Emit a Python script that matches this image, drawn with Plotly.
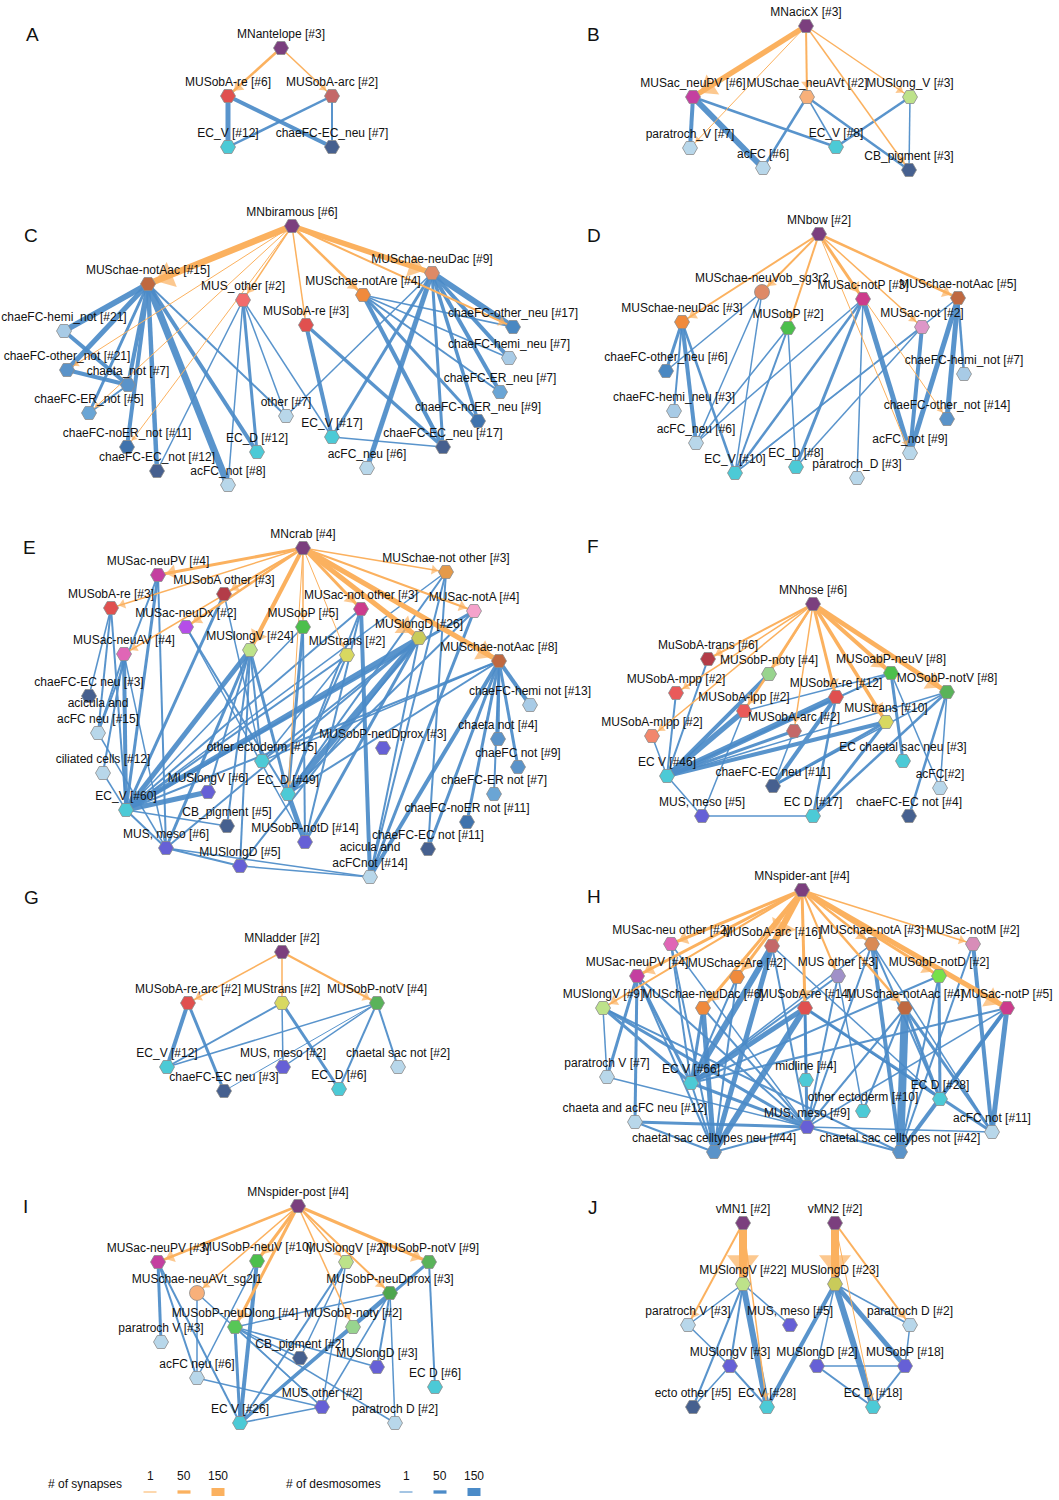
import math
import plotly.graph_objects as go

# ── Palette ──────────────────────────────────────────────────────────
SYN_COLOR = "#fbb15f"      # synapse edges (orange, with arrowheads)
DES_COLOR = "#4b8bc8"      # desmosome edges (blue)
NODE_LINE = "#8c8c8c"
FONT = "Liberation Sans, Arial, sans-serif"

PURPLE = "#7b3f7e"; RED = "#e0504f"; ROSE = "#c46868"; CYAN = "#4ccad6"
SLATE = "#46608f"; MAGENTA = "#c43fa0"; PEACH = "#f8b07a"; LGREEN = "#bde28a"
PALE = "#b8d7ea"; BROWN = "#bf6840"; SALMON = "#f26c6c"; ORANGE = "#f08a3c"
TERRA = "#de8a66"; LBLUE = "#a8cbe6"; MBLUE = "#5a93c9"; ERBLUE = "#6aa5d5"
DBLUE = "#3f73ad"; GREEN = "#4cbf4c"; CERISE = "#cc3b8c"; PINK = "#dd96c8"
VIOLET = "#b54ee8"; HOTPINK = "#e066b6"; DRED = "#b33c48"; YELLOW = "#d8d860"
OLIVE = "#c9cb5a"; LPINK = "#f5a2cb"; AMBER = "#e49a4a"; INDIGO = "#6660d6"
MINT = "#98d48e"; SALMON2 = "#f2876c"; RED2 = "#ea5a5a"; BGREEN = "#5ab35a"
LAV = "#a090c8"; NEON = "#77e04a"; MAUVE = "#d88db8"; OBLUE = "#4a88c2"

# ── Panel A ──────────────────────────────────────────────────────────
A_LABELS = {"mn": "MNantelope [#3]", "re": "MUSobA-re [#6]", "arc": "MUSobA-arc [#2]",
            "ecv": "EC_V [#12]", "ecn": "chaeFC-EC_neu [#7]"}
A_LAYOUT = {"mn": (281, 48, PURPLE), "re": (228, 96, RED), "arc": (332, 96, ROSE),
            "ecv": (228, 147, CYAN), "ecn": (332, 147, SLATE)}
A_SYN = [("mn", "re", 33), ("mn", "arc", 12)]
A_DES = [("re", "ecv", 90), ("re", "ecn", 60), ("arc", "ecv", 30), ("arc", "ecn", 25)]

# ── Panel B ──────────────────────────────────────────────────────────
B_LABELS = {"mn": "MNacicX [#3]", "pv": "MUSac_neuPV [#6]", "avt": "MUSchae_neuAVt [#2]",
            "lv": "MUSlong_V [#3]", "pt": "paratroch_V [#7]", "ac": "acFC [#6]",
            "ecv": "EC_V [#8]", "cb": "CB_pigment [#3]"}
B_LAYOUT = {"mn": (806, 26, PURPLE), "pv": (693, 97, MAGENTA), "avt": (807, 97, PEACH),
            "lv": (910, 97, LGREEN), "pt": (690, 148, PALE), "ac": (763, 168, PALE),
            "ecv": (836, 147, CYAN), "cb": (909, 170, SLATE)}
B_SYN = [("mn", "pv", 100), ("mn", "pt", 1), ("mn", "avt", 25), ("mn", "lv", 15), ("mn", "cb", 12)]
B_DES = [("pv", "pt", 65), ("pv", "ac", 110), ("pv", "ecv", 35), ("avt", "ac", 30),
         ("avt", "ecv", 15), ("avt", "cb", 35), ("lv", "ecv", 35), ("lv", "cb", 15)]

# ── Panel C ──────────────────────────────────────────────────────────
C_LABELS = {"mn": "MNbiramous [#6]", "naac": "MUSchae-notAac [#15]", "mo": "MUS_other [#2]",
            "nare": "MUSchae-notAre [#4]", "re": "MUSobA-re [#3]", "ndac": "MUSchae-neuDac [#9]",
            "hn": "chaeFC-hemi_not [#21]", "on": "chaeFC-other_not [#21]", "ch": "chaeta_not [#7]",
            "ern": "chaeFC-ER_not [#5]", "noern": "chaeFC-noER_not [#11]",
            "ecn": "chaeFC-EC_not [#12]", "acn": "acFC_not [#8]", "ecd": "EC_D [#12]",
            "ot": "other [#7]", "ecv": "EC_V [#17]", "acu": "acFC_neu [#6]",
            "ecu": "chaeFC-EC_neu [#17]", "oth": "chaeFC-other_neu [#17]",
            "hu": "chaeFC-hemi_neu [#7]", "eru": "chaeFC-ER_neu [#7]", "noeru": "chaeFC-noER_neu [#9]"}
C_LAYOUT = {"mn": (292, 226, PURPLE), "naac": (148, 284, BROWN), "mo": (243, 300, SALMON),
            "nare": (363, 295, ORANGE), "re": (306, 325, RED), "ndac": (432, 273, TERRA),
            "hn": (64, 331, LBLUE), "on": (67, 370, MBLUE), "ch": (128, 385, MBLUE),
            "ern": (89, 413, ERBLUE), "noern": (127, 447, DBLUE), "ecn": (157, 471, SLATE),
            "acn": (228, 485, PALE), "ecd": (257, 452, CYAN), "ot": (286, 416, PALE),
            "ecv": (332, 437, CYAN), "acu": (367, 468, PALE), "ecu": (443, 447, SLATE),
            "oth": (513, 327, OBLUE), "hu": (509, 358, LBLUE), "eru": (500, 392, ERBLUE),
            "noeru": (478, 421, DBLUE)}
C_SYN = [("mn", "naac", 120), ("mn", "ndac", 100), ("mn", "mo", 12), ("mn", "re", 15),
         ("mn", "nare", 35), ("mn", "on", 1), ("mn", "ern", 1), ("mn", "noern", 1), ("mn", "oth", 20)]
C_DES = [("naac", "hn", 110), ("naac", "on", 90), ("naac", "ch", 65), ("naac", "ern", 40),
         ("naac", "noern", 65), ("naac", "ecn", 80), ("naac", "acn", 130), ("naac", "ecd", 70),
         ("naac", "ot", 25), ("hn", "ch", 65), ("on", "ch", 60), ("ch", "ern", 25),
         ("mo", "ecd", 45), ("mo", "acn", 8), ("mo", "ot", 15), ("mo", "ecv", 8), ("mo", "ecn", 8),
         ("re", "ecv", 65), ("re", "ecu", 55), ("nare", "ecu", 60), ("nare", "noeru", 45),
         ("nare", "eru", 25), ("nare", "hu", 10), ("nare", "oth", 10), ("ndac", "oth", 110),
         ("ndac", "hu", 70), ("ndac", "eru", 70), ("ndac", "noeru", 50), ("ndac", "ecu", 45),
         ("ndac", "acu", 85), ("ndac", "ecv", 45), ("ndac", "ot", 10), ("ecv", "ecu", 10)]

# ── Panel D ──────────────────────────────────────────────────────────
D_LABELS = {"mn": "MNbow [#2]", "vob": "MUSchae-neuVob_sg3r2", "dac": "MUSchae-neuDac [#3]",
            "obp": "MUSobP [#2]", "np": "MUSac-notP [#3]", "aac": "MUSchae-notAac [#5]",
            "acn": "MUSac-not [#2]", "oun": "chaeFC-other_neu [#6]", "hun": "chaeFC-hemi_neu [#3]",
            "acu": "acFC_neu [#6]", "ecv": "EC_V [#10]", "ecd": "EC_D [#8]",
            "ptd": "paratroch_D [#3]", "acnot": "acFC_not [#9]", "onot": "chaeFC-other_not [#14]",
            "hnot": "chaeFC-hemi_not [#7]"}
D_LAYOUT = {"mn": (819, 234, PURPLE), "vob": (762, 292, TERRA, "circle"), "dac": (682, 322, ORANGE),
            "obp": (788, 328, GREEN), "np": (863, 299, CERISE), "aac": (958, 298, BROWN),
            "acn": (922, 327, PINK), "oun": (666, 371, OBLUE), "hun": (674, 411, LBLUE),
            "acu": (696, 443, PALE), "ecv": (735, 473, CYAN), "ecd": (796, 467, CYAN),
            "ptd": (857, 478, PALE), "acnot": (910, 453, PALE), "onot": (947, 419, MBLUE),
            "hnot": (964, 374, LBLUE)}
D_SYN = [("mn", "vob", 25), ("mn", "dac", 25), ("mn", "obp", 25), ("mn", "np", 40), ("mn", "aac", 30),
         ("mn", "acn", 15), ("mn", "onot", 1), ("mn", "acnot", 1)]
D_DES = [("dac", "oun", 40), ("dac", "hun", 25), ("dac", "acu", 65), ("dac", "ecv", 35),
         ("vob", "oun", 8), ("vob", "ecv", 8), ("vob", "acu", 8), ("obp", "ecv", 25), ("obp", "ecd", 15),
         ("obp", "acu", 15), ("np", "ecv", 30), ("np", "ecd", 40), ("np", "ptd", 15), ("np", "acnot", 85),
         ("np", "acu", 10), ("acn", "acnot", 65), ("acn", "ecv", 10), ("acn", "ecd", 15),
         ("aac", "acnot", 90), ("aac", "onot", 90), ("aac", "hnot", 30), ("aac", "ecv", 8)]

# ── Panel E ──────────────────────────────────────────────────────────
E_LABELS = {"mn": "MNcrab [#4]", "pv": "MUSac-neuPV [#4]", "oao": "MUSobA other [#3]",
            "re": "MUSobA-re [#3]", "dx": "MUSac-neuDx [#2]", "av": "MUSac-neuAV [#4]",
            "lv": "MUSlongV [#24]", "obp": "MUSobP [#5]", "tr": "MUStrans [#2]",
            "ano": "MUSac-not other [#3]", "ld": "MUSlongD [#26]", "cno": "MUSchae-not other [#3]",
            "na": "MUSac-notA [#4]", "aac": "MUSchae-notAac [#8]", "ecneu": "chaeFC-EC neu [#3]",
            "aan": "acicula and<br>acFC neu [#15]", "cil": "ciliated cells [#12]",
            "ecv": "EC_V [#60]", "lv6": "MUSlongV [#6]", "oe": "other ectoderm [#15]",
            "ecd": "EC_D [#49]", "cb": "CB_pigment [#5]", "meso": "MUS, meso [#6]",
            "ld5": "MUSlongD [#5]", "npd": "MUSobP-notD [#14]", "ndp": "MUSobP-neuDprox [#3]",
            "aano": "acicula and<br>acFCnot [#14]", "ecnot": "chaeFC-EC not [#11]",
            "hemi": "chaeFC-hemi not [#13]", "cht": "chaeta not [#4]", "cfc": "chaeFC not [#9]",
            "er": "chaeFC-ER not [#7]", "noer": "chaeFC-noER not [#11]"}
E_LAYOUT = {"mn": (303, 548, PURPLE), "pv": (158, 575, MAGENTA), "oao": (224, 594, DRED),
            "re": (111, 608, RED), "dx": (186, 627, VIOLET), "av": (124, 654, HOTPINK),
            "lv": (250, 650, LGREEN), "obp": (303, 627, GREEN), "tr": (347, 655, YELLOW),
            "ano": (361, 609, CERISE), "ld": (419, 638, OLIVE), "cno": (446, 572, AMBER),
            "na": (474, 611, LPINK), "aac": (499, 661, BROWN), "ecneu": (89, 696, SLATE),
            "aan": (98, 733, PALE), "cil": (103, 773, PALE), "ecv": (126, 810, CYAN),
            "lv6": (208, 792, INDIGO), "oe": (262, 761, CYAN), "ecd": (288, 794, CYAN),
            "cb": (227, 826, SLATE), "meso": (166, 848, INDIGO), "ld5": (240, 866, INDIGO),
            "npd": (305, 842, INDIGO), "ndp": (383, 748, INDIGO), "aano": (370, 877, PALE),
            "ecnot": (428, 849, SLATE), "hemi": (530, 705, LBLUE), "cht": (498, 739, MBLUE),
            "cfc": (518, 767, MBLUE), "er": (494, 794, ERBLUE), "noer": (467, 822, DBLUE)}
E_SYN = [("mn", "pv", 45), ("mn", "oao", 25), ("mn", "re", 15), ("mn", "dx", 35), ("mn", "av", 15),
         ("mn", "lv", 65), ("mn", "obp", 12), ("mn", "tr", 5), ("mn", "ano", 45), ("mn", "ld", 90),
         ("mn", "cno", 15), ("mn", "na", 25), ("mn", "aac", 90), ("mn", "ecd", 1)]
E_DES = [("pv", "ecv", 45), ("pv", "meso", 25), ("pv", "aan", 25), ("re", "ecv", 25), ("re", "aan", 25),
         ("re", "ecneu", 15), ("oao", "ecv", 45), ("oao", "oe", 8), ("dx", "ecd", 25), ("dx", "npd", 15),
         ("av", "ecv", 65), ("av", "aan", 25), ("av", "cil", 20), ("av", "meso", 8),
         ("lv", "ecv", 90), ("lv", "meso", 40), ("lv", "ld5", 25), ("lv", "ecd", 40), ("lv", "oe", 20),
         ("lv", "cb", 25), ("lv", "lv6", 25), ("obp", "ecd", 40), ("obp", "ecv", 10), ("obp", "npd", 20),
         ("tr", "ecv", 20), ("tr", "ecd", 20), ("tr", "oe", 8), ("ano", "aano", 65), ("ano", "ecv", 20),
         ("ano", "ecd", 25), ("ano", "npd", 25), ("ld", "ecv", 90), ("ld", "ecd", 110), ("ld", "ld5", 20),
         ("ld", "npd", 45), ("ld", "oe", 20), ("ld", "aano", 20), ("ld", "meso", 20),
         ("cno", "ecd", 20), ("cno", "aano", 20), ("cno", "ecnot", 20), ("cno", "ecv", 8),
         ("na", "ecv", 40), ("na", "aano", 40), ("na", "ecd", 20), ("aac", "ecv", 25),
         ("aac", "hemi", 65), ("aac", "cht", 40), ("aac", "cfc", 40), ("aac", "er", 25),
         ("aac", "noer", 40), ("aac", "ecnot", 40), ("aac", "aano", 65), ("aac", "ecd", 25),
         ("aac", "oe", 8), ("ecv", "lv6", 90), ("ecv", "meso", 25), ("ecv", "cil", 10), ("ecv", "cb", 10),
         ("meso", "ld5", 20), ("meso", "aano", 8), ("ecd", "npd", 90), ("ld5", "aano", 8), ("aan", "meso", 10)]

# ── Panel F ──────────────────────────────────────────────────────────
F_LABELS = {"mn": "MNhose [#6]", "tr": "MuSobA-trans [#6]", "noty": "MUSobP-noty [#4]",
            "mpp": "MUSobA-mpp [#2]", "lpp": "MUSobA-lpp [#2]", "mlpp": "MUSobA-mlpp [#2]",
            "re": "MUSobA-re [#12]", "arc": "MUSobA-arc [#2]", "neuv": "MUSoabP-neuV [#8]",
            "notv": "MOSobP-notV [#8]", "trans": "MUStrans [#10]", "ecv": "EC V [#46]",
            "ecn": "chaeFC-EC neu [#11]", "ecs": "EC chaetal sac neu [#3]", "acfc": "acFC[#2]",
            "meso": "MUS, meso [#5]", "ecd": "EC D [#17]", "ecnot": "chaeFC-EC not [#4]"}
F_LAYOUT = {"mn": (813, 604, PURPLE), "tr": (708, 659, DRED), "noty": (769, 674, MINT),
            "mpp": (676, 693, RED2), "lpp": (744, 711, RED2), "mlpp": (652, 736, SALMON2),
            "re": (836, 697, RED), "arc": (794, 731, ROSE), "neuv": (891, 673, GREEN),
            "notv": (947, 692, BGREEN), "trans": (886, 722, YELLOW), "ecv": (667, 776, CYAN),
            "ecn": (773, 786, SLATE), "ecs": (903, 761, CYAN), "acfc": (940, 788, PALE),
            "meso": (702, 816, INDIGO), "ecd": (813, 816, CYAN), "ecnot": (909, 816, SLATE)}
F_SYN = [("mn", "tr", 25), ("mn", "noty", 25), ("mn", "mpp", 12), ("mn", "mlpp", 12), ("mn", "lpp", 35),
         ("mn", "re", 45), ("mn", "arc", 12), ("mn", "neuv", 65), ("mn", "notv", 80), ("mn", "trans", 55)]
F_DES = [("tr", "ecv", 25), ("noty", "ecv", 65), ("mpp", "ecv", 25), ("lpp", "ecv", 100),
         ("mlpp", "ecv", 8), ("re", "ecv", 110), ("arc", "ecv", 45), ("trans", "ecv", 65),
         ("neuv", "ecv", 25), ("notv", "ecv", 15), ("re", "ecn", 65), ("trans", "ecn", 45),
         ("notv", "ecn", 8), ("arc", "ecn", 10), ("re", "ecd", 30), ("trans", "ecd", 45),
         ("notv", "ecd", 30), ("neuv", "ecs", 40), ("neuv", "acfc", 8), ("notv", "acfc", 8),
         ("notv", "ecnot", 30), ("lpp", "meso", 8), ("ecv", "meso", 10), ("meso", "ecd", 8),
         ("lpp", "neuv", 15)]

# ── Panel G ──────────────────────────────────────────────────────────
G_LABELS = {"mn": "MNladder [#2]", "re": "MUSobA-re,arc [#2]", "tr": "MUStrans [#2]",
            "nv": "MUSobP-notV [#4]", "ecv": "EC_V [#12]", "ecn": "chaeFC-EC neu [#3]",
            "meso": "MUS, meso [#2]", "ecd": "EC_D [#6]", "csn": "chaetal sac not [#2]"}
G_LAYOUT = {"mn": (282, 952, PURPLE), "re": (188, 1003, RED), "tr": (282, 1003, YELLOW),
            "nv": (377, 1003, BGREEN), "ecv": (167, 1067, CYAN), "ecn": (224, 1091, SLATE),
            "meso": (283, 1067, INDIGO), "ecd": (339, 1089, CYAN), "csn": (398, 1067, PALE)}
G_SYN = [("mn", "re", 15), ("mn", "tr", 15), ("mn", "nv", 20)]
G_DES = [("re", "ecv", 65), ("re", "ecn", 40), ("tr", "ecv", 25), ("tr", "meso", 8), ("tr", "ecd", 40),
         ("nv", "ecv", 10), ("nv", "ecn", 5), ("nv", "meso", 8), ("nv", "ecd", 25), ("nv", "csn", 25)]

# ── Panel H ──────────────────────────────────────────────────────────
H_LABELS = {"mn": "MNspider-ant [#4]", "nuo": "MUSac-neu other [#2]", "arc": "MUSobA-arc [#16]",
            "na": "MUSchae-notA [#3]", "nm": "MUSac-notM [#2]", "pv": "MUSac-neuPV [#4]",
            "are": "MUSchae-Are [#2]", "mo": "MUS other [#3]", "nd": "MUSobP-notD [#2]",
            "lv": "MUSlongV [#9]", "dac": "MUSchae-neuDac [#6]", "re": "MUSobA-re [#14]",
            "aac": "MUSchae-notAac [#4]", "np": "MUSac-notP [#5]", "pt": "paratroch V [#7]",
            "ecv": "EC V [#66]", "mid": "midline [#4]", "ecd": "EC D [#28]",
            "oe": "other ectoderm [#10]", "caf": "chaeta and acFC neu [#12]",
            "meso": "MUS, meso [#9]", "acn": "acFC not [#11]",
            "csn": "chaetal sac celltypes neu [#44]", "cst": "chaetal sac celltypes not [#42]"}
H_LAYOUT = {"mn": (802, 890, PURPLE), "nuo": (671, 944, HOTPINK), "arc": (772, 946, ROSE),
            "na": (872, 944, "#d98a55"), "nm": (973, 944, MAUVE), "pv": (637, 976, MAGENTA),
            "are": (737, 977, ORANGE), "mo": (838, 976, LAV), "nd": (939, 976, NEON),
            "lv": (603, 1008, LGREEN), "dac": (703, 1008, ORANGE), "re": (805, 1008, RED),
            "aac": (905, 1008, BROWN), "np": (1007, 1008, CERISE), "pt": (607, 1077, PALE),
            "ecv": (691, 1083, CYAN), "mid": (806, 1080, CYAN), "ecd": (940, 1099, CYAN),
            "oe": (863, 1111, CYAN), "caf": (635, 1122, PALE), "meso": (807, 1127, INDIGO),
            "acn": (992, 1132, PALE), "csn": (714, 1152, MBLUE), "cst": (900, 1152, MBLUE)}
H_SYN = [("mn", "nuo", 40), ("mn", "arc", 120), ("mn", "na", 35), ("mn", "nm", 15), ("mn", "pv", 45),
         ("mn", "are", 45), ("mn", "mo", 25), ("mn", "nd", 45), ("mn", "lv", 25), ("mn", "dac", 45),
         ("mn", "re", 45), ("mn", "aac", 30), ("mn", "np", 90)]
H_DES = [("pv", "caf", 45), ("pv", "ecv", 45), ("pv", "pt", 45), ("pv", "meso", 25), ("pv", "csn", 25),
         ("nuo", "ecv", 25), ("nuo", "csn", 25), ("nuo", "meso", 10), ("lv", "pt", 8), ("lv", "ecv", 45),
         ("lv", "meso", 45), ("lv", "cst", 20), ("are", "ecv", 25), ("are", "csn", 25),
         ("arc", "ecv", 110), ("arc", "csn", 90), ("arc", "meso", 25), ("arc", "ecd", 10),
         ("dac", "csn", 90), ("dac", "ecv", 45), ("dac", "meso", 25), ("re", "ecv", 90),
         ("re", "csn", 110), ("re", "mid", 25), ("re", "meso", 45), ("re", "ecd", 10), ("re", "acn", 40),
         ("mo", "ecv", 25), ("mo", "meso", 25), ("mo", "oe", 10), ("na", "cst", 65), ("na", "ecd", 25),
         ("na", "meso", 25), ("na", "acn", 10), ("na", "ecv", 10), ("aac", "cst", 150),
         ("aac", "ecd", 45), ("aac", "acn", 45), ("aac", "oe", 25), ("aac", "meso", 25),
         ("nd", "ecd", 45), ("nd", "ecv", 25), ("nd", "cst", 25), ("nm", "acn", 65), ("nm", "cst", 25),
         ("np", "acn", 90), ("np", "cst", 65), ("np", "ecd", 45), ("np", "ecv", 25), ("np", "meso", 10),
         ("caf", "meso", 45), ("caf", "csn", 25), ("ecv", "meso", 45), ("ecv", "csn", 25),
         ("pt", "meso", 8), ("meso", "cst", 25), ("meso", "acn", 10), ("meso", "csn", 25)]

# ── Panel I ──────────────────────────────────────────────────────────
I_LABELS = {"mn": "MNspider-post [#4]", "pv": "MUSac-neuPV [#3]", "nv": "MUSobP-neuV [#10]",
            "lv": "MUSlongV [#2]", "ntv": "MUSobP-notV [#9]", "avt": "MUSchae-neuAVt_sg2l1",
            "ndp": "MUSobP-neuDprox [#3]", "ndl": "MUSobP-neuDlong [#4]", "ptv": "paratroch V [#3]",
            "noty": "MUSobP-noty [#2]", "cb": "CB_pigment [#2]", "ld": "MUSlongD [#3]",
            "ecd": "EC D [#6]", "acu": "acFC neu [#6]", "mo": "MUS other [#2]",
            "ecv": "EC V [#26]", "ptd": "paratroch D [#2]"}
I_LAYOUT = {"mn": (298, 1206, PURPLE), "pv": (158, 1262, MAGENTA), "nv": (257, 1261, GREEN),
            "lv": (346, 1262, LGREEN), "ntv": (429, 1262, BGREEN), "avt": (197, 1293, PEACH, "circle"),
            "ndp": (390, 1293, "#4ea64e"), "ndl": (235, 1327, "#57c757"), "ptv": (161, 1342, PALE),
            "noty": (353, 1327, MINT), "cb": (300, 1358, SLATE), "ld": (377, 1367, INDIGO),
            "ecd": (435, 1387, CYAN), "acu": (197, 1378, PALE), "mo": (322, 1407, INDIGO),
            "ecv": (240, 1423, CYAN), "ptd": (395, 1423, PALE)}
I_SYN = [("mn", "pv", 35), ("mn", "nv", 45), ("mn", "avt", 12), ("mn", "ndl", 45), ("mn", "lv", 12),
         ("mn", "ntv", 45), ("mn", "ndp", 25), ("mn", "noty", 12)]
I_DES = [("pv", "ptv", 45), ("pv", "acu", 25), ("pv", "ecv", 25), ("nv", "ecv", 65), ("nv", "acu", 10),
         ("avt", "acu", 8), ("avt", "mo", 8), ("ndl", "ecv", 45), ("ndl", "ld", 8), ("ndl", "mo", 8),
         ("ndl", "cb", 8), ("ndl", "ptd", 8), ("lv", "ecv", 25), ("lv", "cb", 8), ("lv", "mo", 8),
         ("ntv", "ecv", 45), ("ntv", "ecd", 25), ("ndp", "ecv", 45), ("ndp", "ld", 25), ("ndp", "ptd", 8),
         ("ndp", "mo", 8), ("ndp", "ndl", 8), ("acu", "mo", 15), ("ecv", "mo", 10)]

# ── Panel J ──────────────────────────────────────────────────────────
J_LABELS = {"m1": "vMN1 [#2]", "m2": "vMN2 [#2]", "lv": "MUSlongV [#22]", "ldd": "MUSlongD [#23]",
            "ptv": "paratroch V [#3]", "meso": "MUS, meso [#5]", "ptd": "paratroch D [#2]",
            "lv3": "MUSlongV [#3]", "ld2": "MUSlongD [#2]", "obp": "MUSobP [#18]",
            "eo": "ecto other [#5]", "ecv": "EC V [#28]", "ecd": "EC D [#18]"}
J_LAYOUT = {"m1": (743, 1223, PURPLE), "m2": (835, 1223, PURPLE), "lv": (743, 1284, LGREEN),
            "ldd": (835, 1284, OLIVE), "ptv": (688, 1325, PALE), "meso": (790, 1325, INDIGO),
            "ptd": (910, 1325, PALE), "lv3": (730, 1366, INDIGO), "ld2": (817, 1366, INDIGO),
            "obp": (905, 1366, INDIGO), "eo": (693, 1407, SLATE), "ecv": (767, 1407, CYAN),
            "ecd": (873, 1407, CYAN)}
J_SYN = [("m1", "lv", 150), ("m1", "ptv", 20), ("m1", "ecv", 8), ("m2", "ldd", 150), ("m2", "ptd", 25),
         ("m2", "ecd", 5)]
J_DES = [("lv", "ptv", 15), ("lv", "lv3", 25), ("lv", "eo", 25), ("lv", "ecv", 110), ("lv", "meso", 8),
         ("ptv", "lv3", 8), ("lv3", "eo", 8), ("lv3", "ecv", 25), ("ldd", "ecv", 65), ("ldd", "ld2", 15),
         ("ldd", "ecd", 110), ("ldd", "obp", 90), ("ldd", "ptd", 15), ("ptd", "obp", 15),
         ("ld2", "obp", 8), ("ld2", "ecd", 25), ("obp", "ecd", 25)]

PANELS = [
    ("A", (32, 34), A_LABELS, A_LAYOUT, A_SYN, A_DES),
    ("B", (593, 34), B_LABELS, B_LAYOUT, B_SYN, B_DES),
    ("C", (31, 235), C_LABELS, C_LAYOUT, C_SYN, C_DES),
    ("D", (594, 235), D_LABELS, D_LAYOUT, D_SYN, D_DES),
    ("E", (29, 547), E_LABELS, E_LAYOUT, E_SYN, E_DES),
    ("F", (593, 546), F_LABELS, F_LAYOUT, F_SYN, F_DES),
    ("G", (31, 897), G_LABELS, G_LAYOUT, G_SYN, G_DES),
    ("H", (594, 896), H_LABELS, H_LAYOUT, H_SYN, H_DES),
    ("I", (25, 1206), I_LABELS, I_LAYOUT, I_SYN, I_DES),
    ("J", (593, 1207), J_LABELS, J_LAYOUT, J_SYN, J_DES),
]

LEGEND_COUNTS = [1, 50, 150]
LEGEND_TICKS = ["1", "50", "150"]


def width_of(n):
    """Edge stroke width (px) for a connection count."""
    return 1 + 7 * (n - 1) / 149


def add_edge_traces(fig, edge_key, color, opacity):
    """One line trace per (rounded) stroke width."""
    groups = {}
    for _, _, labels, layout, syn, des in PANELS:
        edges = syn if edge_key == "syn" else des
        for a, b, n in edges:
            w = round(width_of(n) * 2) / 2
            xs, ys = groups.setdefault(w, ([], []))
            xs += [layout[a][0], layout[b][0], None]
            ys += [layout[a][1], layout[b][1], None]
    for w, (xs, ys) in sorted(groups.items()):
        fig.add_trace(go.Scatter(x=xs, y=ys, mode="lines", hoverinfo="skip",
                                 line=dict(color=color, width=w), opacity=opacity))


fig = go.Figure()
annotations = []

# ── Edges: desmosomes (blue) then synapses (orange) ──────────────────
add_edge_traces(fig, "des", DES_COLOR, 0.92)
add_edge_traces(fig, "syn", SYN_COLOR, 1.0)

# ── Arrowheads at synapse targets ────────────────────────────────────
hx, hy, hs, ha = [], [], [], []
for _, _, labels, layout, syn, des in PANELS:
    for a, b, n in syn:
        x0, y0 = layout[a][:2]
        x1, y1 = layout[b][:2]
        length = math.hypot(x1 - x0, y1 - y0)
        ux, uy = (x1 - x0) / length, (y1 - y0) / length
        size = (4 + 3.5 * width_of(n)) / 1.155
        back = 8 + size / 2
        hx.append(x1 - ux * back)
        hy.append(y1 - uy * back)
        hs.append(size)
        ha.append(math.degrees(math.atan2(ux, -uy)))
fig.add_trace(go.Scatter(
    x=hx, y=hy, mode="markers", hoverinfo="skip",
    marker=dict(symbol="triangle-up", size=hs, angle=ha, color=SYN_COLOR, line=dict(width=0)),
))

# ── Nodes and labels ─────────────────────────────────────────────────
nx, ny, ncol, nsym, ntext = [], [], [], [], []
for _, _, labels, layout, syn, des in PANELS:
    for key, lab in labels.items():
        spec = layout[key]
        nx.append(spec[0]); ny.append(spec[1]); ncol.append(spec[2])
        nsym.append(spec[3] if len(spec) > 3 else "hexagon2")
        ntext.append(lab)

fig.add_trace(go.Scatter(
    x=nx, y=ny, mode="markers", hoverinfo="skip",
    marker=dict(symbol=nsym, size=15, color=ncol, line=dict(color=NODE_LINE, width=0.8)),
))
fig.add_trace(go.Scatter(
    x=nx, y=[v - 7 for v in ny], mode="text", text=ntext, textposition="top center",
    textfont=dict(size=12, color="#111111", family=FONT), hoverinfo="skip",
))

# ── Panel letters ────────────────────────────────────────────────────
for letter, (lx, ly), *_ in PANELS:
    annotations.append(dict(x=lx, y=ly, xref="x", yref="y", text=letter, showarrow=False,
                            font=dict(size=19, color="#111111", family=FONT)))

# ── Width legend ─────────────────────────────────────────────────────
legend_specs = [("# of synapses", 85, [150, 184, 218], SYN_COLOR),
                ("# of desmosomes", 333, [406, 440, 474], DES_COLOR)]
for title, tx, xs, color in legend_specs:
    annotations.append(dict(x=tx, y=1484, xref="x", yref="y", text=title, showarrow=False,
                            font=dict(size=12, color="#111111", family=FONT)))
    for cx, cnt, tick in zip(xs, LEGEND_COUNTS, LEGEND_TICKS):
        annotations.append(dict(x=cx, y=1476, xref="x", yref="y", text=tick, showarrow=False,
                                font=dict(size=12, color="#111111", family=FONT)))
        fig.add_trace(go.Scatter(x=[cx - 6.5, cx + 6.5], y=[1492, 1492], mode="lines",
                                 hoverinfo="skip", line=dict(color=color, width=width_of(cnt))))

fig.update_layout(
    width=1059, height=1500,
    margin=dict(l=0, r=0, t=0, b=0),
    paper_bgcolor="white", plot_bgcolor="white",
    showlegend=False,
    xaxis=dict(range=[0, 1059], visible=False, fixedrange=True),
    yaxis=dict(range=[1500, 0], visible=False, fixedrange=True),
    annotations=annotations,
)

fig.write_html("out.html", config={"displayModeBar": False},
               post_script="document.body.style.margin='0';")
